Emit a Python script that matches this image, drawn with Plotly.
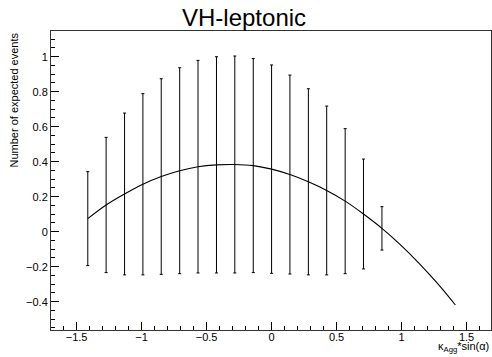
import plotly.graph_objects as go

# Data
x_points = [-1.414, -1.273, -1.131, -0.990, -0.849, -0.707, -0.566, -0.424, -0.283,
            -0.141, 0.0, 0.141, 0.283, 0.424, 0.566, 0.707, 0.849]
y_upper = [0.343, 0.539, 0.678, 0.789, 0.874, 0.937, 0.979, 1.000, 1.004,
           0.989, 0.953, 0.895, 0.817, 0.718, 0.589, 0.415, 0.143]
y_lower = [-0.194, -0.234, -0.247, -0.247, -0.244, -0.240, -0.236, -0.236, -0.236,
           -0.234, -0.238, -0.242, -0.247, -0.247, -0.240, -0.213, -0.105]

x_curve = [-1.414, -1.273, -1.131, -0.990, -0.849, -0.707, -0.566, -0.424, -0.283,
           -0.141, 0.0, 0.141, 0.283, 0.424, 0.566, 0.707, 0.849, 0.990, 1.131, 1.273, 1.414]
y_curve = [0.0745, 0.1525, 0.2155, 0.271, 0.315, 0.3485, 0.3715, 0.382, 0.384,
           0.3775, 0.3575, 0.3265, 0.285, 0.2355, 0.1745, 0.101, 0.019, -0.074, -0.178, -0.293, -0.419]

y_center = [(u + l) / 2 for u, l in zip(y_upper, y_lower)]
err_plus = [u - c for u, c in zip(y_upper, y_center)]
err_minus = [c - l for c, l in zip(y_center, y_lower)]

FONT = "Liberation Sans, Arial, Helvetica, sans-serif"
W, H = 492, 357
ML, MR, MT, MB = 51, 1, 31, 27
plot_w = W - ML - MR

fig = go.Figure()
fig.add_trace(go.Scatter(
    x=x_points, y=y_center, mode="markers",
    marker=dict(size=1, color="rgba(0,0,0,0)"),
    error_y=dict(type="data", symmetric=False, array=err_plus, arrayminus=err_minus,
                 color="black", thickness=1, width=1.5),
    showlegend=False, hoverinfo="skip"))
fig.add_trace(go.Scatter(
    x=x_curve, y=y_curve, mode="lines",
    line=dict(color="black", width=1.1, shape="spline"),
    showlegend=False))

fig.update_layout(
    width=W, height=H,
    margin=dict(l=ML, r=MR, t=MT, b=MB, autoexpand=False),
    paper_bgcolor="white", plot_bgcolor="white",
    font=dict(family=FONT, size=11, color="black"),
    showlegend=False,
    annotations=[
        dict(text="VH-leptonic", x=(244 - ML) / plot_w, xref="paper", y=1, yref="paper",
             showarrow=False, font=dict(size=24, family=FONT),
             xanchor="center", yanchor="bottom", yshift=-2),
        dict(text="Number of expected events", textangle=-90, x=(13 - ML) / plot_w, y=1,
             xref="paper", yref="paper", showarrow=False, xanchor="center", yanchor="top",
             font=dict(size=11, family=FONT)),
        dict(text="κ<sub>Agg</sub>*sin(α)", x=1, y=0, xref="paper", yref="paper",
             showarrow=False, xanchor="right", yanchor="bottom", yshift=-26,
             font=dict(size=11, family=FONT)),
    ],
)
fig.update_xaxes(
    range=[-1.697, 1.688], showgrid=False, zeroline=False, automargin=False,
    showline=True, linecolor="#333", linewidth=1, mirror=True,
    ticks="inside", ticklen=8, tickcolor="black", tickwidth=1,
    tickmode="linear", tick0=0, dtick=0.5, ticklabelstandoff=-3,
    minor=dict(ticks="inside", ticklen=4, tickcolor="black", dtick=0.1, tick0=0),
    tickfont=dict(size=11, family=FONT),
)
fig.update_yaxes(
    range=[-0.562, 1.147], showgrid=False, zeroline=False, automargin=False,
    showline=True, linecolor="#333", linewidth=1, mirror=True,
    ticks="inside", ticklen=8, tickcolor="black", tickwidth=1,
    tickmode="linear", tick0=0, dtick=0.2,
    minor=dict(ticks="inside", ticklen=4, tickcolor="black", dtick=0.05, tick0=0),
    tickfont=dict(size=11, family=FONT),
)

fig.write_html("out.html", config={"displayModeBar": False},
               post_script="document.body.style.margin='0px';")
